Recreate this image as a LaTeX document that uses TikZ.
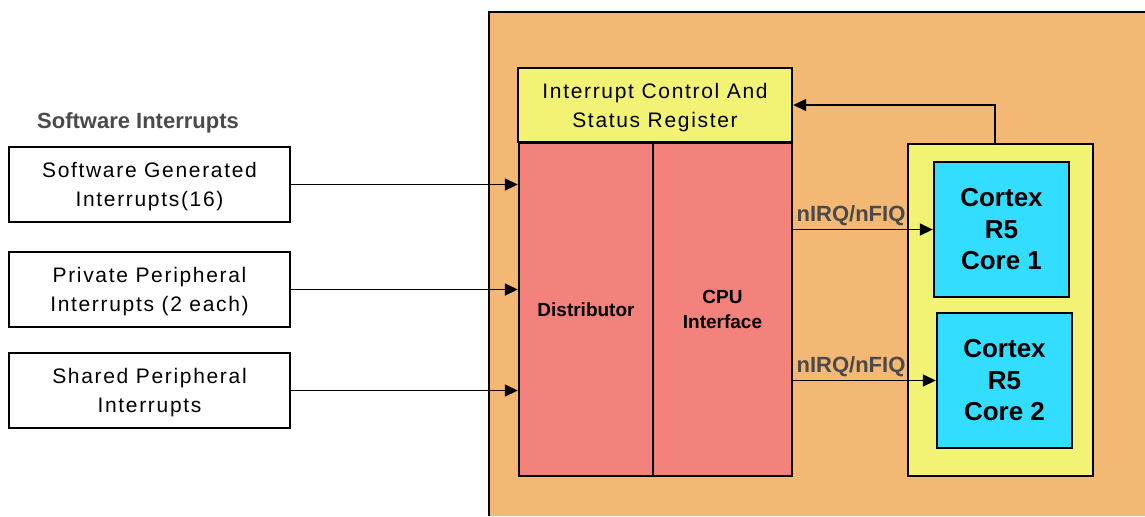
\documentclass[tikz,border=0pt]{standalone}
\usepackage{fontspec}
\setmainfont{Liberation Sans}
\newfontfamily\spacedfont[LetterSpace=8]{Liberation Sans}
\usetikzlibrary{positioning,arrows.meta}

\definecolor{gicorange}{HTML}{F3B874}
\definecolor{regyellow}{HTML}{F2F274}
\definecolor{gicred}{HTML}{F4827C}
\definecolor{corecyan}{HTML}{33DDFF}
\definecolor{labelgray}{HTML}{4A4A4A}

\tikzset{
  srcbox/.style={draw, line width=1.2pt, fill=white, minimum width=140.5pt, minimum height=37.5pt,
    align=center, text depth=-1pt, font=\spacedfont\fontsize{10.5}{14.5}\selectfont},
  gicpart/.style={draw, line width=1.2pt, fill=gicred, minimum height=166.5pt,
    align=center, font=\bfseries\fontsize{9.5}{12.5}\selectfont},
  corebox/.style={draw, line width=1.2pt, fill=corecyan, minimum width=67.5pt, minimum height=67.5pt,
    align=center, font=\bfseries\fontsize{13}{15.75}\selectfont},
  sig/.style={-{Triangle[length=6.5pt,width=6pt]}, line width=0.8pt},
  siglabel/.style={anchor=south west, inner sep=1.5pt, text=labelgray, font=\bfseries\fontsize{11}{13}\selectfont}
}

\begin{document}
\begin{tikzpicture}[x=0.5pt, y=-0.5pt]
    \useasboundingbox (0,0) rectangle (1145,516);

    % GIC block
    \fill[gicorange] (489,12) rectangle (1145,516);
    \draw[line width=1pt] (489,516) |- (1145,12);

    \node[draw, line width=1.2pt, fill=regyellow, minimum width=137pt, minimum height=37pt, align=center,
      text depth=-1pt, font=\spacedfont\fontsize{10.5}{14.5}\selectfont] (icsr) at (655,105) {Interrupt Control And\\Status Register};
    \node[gicpart, minimum width=67pt] (dist) at (586,309.5) {Distributor};
    \node[gicpart, minimum width=69.5pt] (cpuif) at (722.5,309.5) {CPU\\Interface};

    % Interrupt sources
    \node[text=labelgray, font=\bfseries\fontsize{11}{13}\selectfont] (swhead) at (138,123) {Software Interrupts};
    \node[srcbox] (sgi) at (149.5,184.5) {Software Generated\\Interrupts(16)};
    \node[srcbox] (ppi) at (149.5,289.5) {Private Peripheral\\Interrupts (2 each)};
    \node[srcbox] (spi) at (149.5,390.5) {Shared Peripheral\\Interrupts};

    \draw[sig] (sgi.east) -- (sgi.east -| dist.west);
    \draw[sig] (ppi.east) -- (ppi.east -| dist.west);
    \draw[sig] (spi.east) -- (spi.east -| dist.west);

    % Processor cluster
    \node[draw, line width=1.2pt, fill=regyellow, minimum width=92.5pt, minimum height=166pt] (cluster) at (1000.5,310) {};
    \node[corebox] (core1) at (1001.5,229.5) {Cortex\\R5\\Core 1};
    \node[corebox] (core2) at (1004.5,380.5) {Cortex\\R5\\Core 2};

    \draw[sig] (core1.west -| cpuif.east) coordinate (irqa) -- (core1.west);
    \node[siglabel] at (irqa) {nIRQ/nFIQ};
    \draw[sig] (core2.west -| cpuif.east) coordinate (irqb) -- (core2.west);
    \node[siglabel] at (irqb) {nIRQ/nFIQ};

    % Feedback to register
    \draw[sig] ([xshift=-2.75pt]cluster.north) |- (icsr.east);
\end{tikzpicture}
\end{document}
